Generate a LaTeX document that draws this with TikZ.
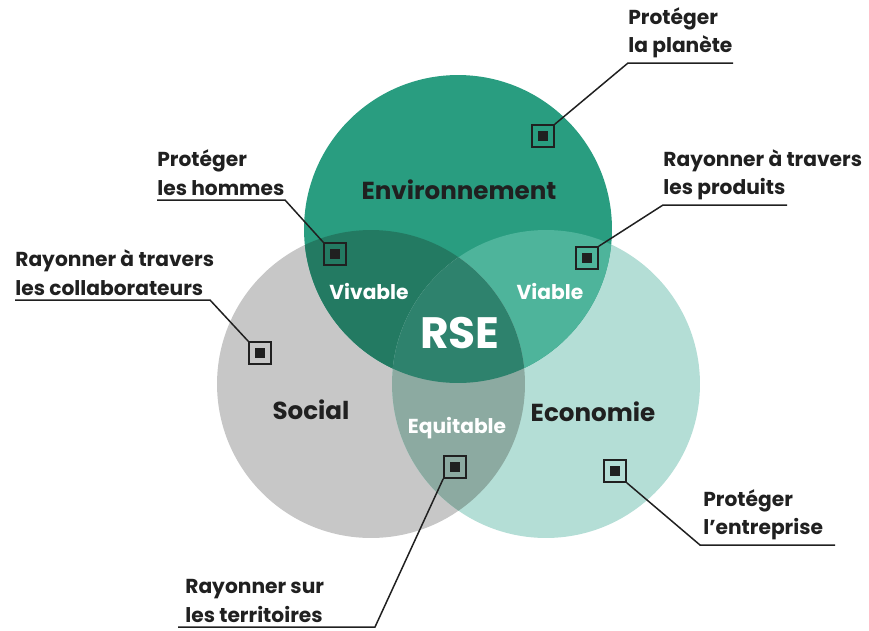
\documentclass[tikz,border=0pt]{standalone}
\usepackage{fontspec}
\setmainfont{Poppins}
\usetikzlibrary{positioning}
\usetikzlibrary{calc}

\definecolor{envgreen}{RGB}{41,157,128}
\definecolor{socgray}{RGB}{199,199,199}
\definecolor{ecoteal}{RGB}{180,222,214}
\definecolor{vivgreen}{RGB}{35,122,98}
\definecolor{viateal}{RGB}{78,180,155}
\definecolor{equigray}{RGB}{140,170,161}
\definecolor{rsegreen}{RGB}{46,130,109}
\definecolor{ink}{RGB}{32,32,32}

\def\R{3.08cm}

\begin{document}
\begin{tikzpicture}[x=0.02cm, y=-0.02cm,
            titlenode/.style={text=ink, font=\bfseries\fontsize{14}{16}\selectfont},
            whitenode/.style={text=white, font=\bfseries\fontsize{11.5}{13}\selectfont},
            calloutnode/.style={text=ink, align=left, anchor=south west, inner xsep=0pt, inner ysep=2.5pt,
                                font=\bfseries\fontsize{11.5}{16}\selectfont},
            squarednode/.style={rectangle, draw=ink, line width=0.9pt, minimum size=0.44cm, inner sep=0pt, text=ink},
            leader/.style={draw=ink, line width=0.85pt},
            ]

            \useasboundingbox (0,0) rectangle (869,630);

            \coordinate (envc) at (458,229);
            \coordinate (socc) at (371,384);
            \coordinate (ecoc) at (546,384);

            \fill[socgray] (socc) circle[radius=\R];
            \fill[ecoteal] (ecoc) circle[radius=\R];
            \fill[envgreen] (envc) circle[radius=\R];

            \begin{scope}
                \clip (envc) circle[radius=\R];
                \fill[vivgreen] (socc) circle[radius=\R];
                \fill[viateal] (ecoc) circle[radius=\R];
            \end{scope}
            \begin{scope}
                \clip (socc) circle[radius=\R];
                \fill[equigray] (ecoc) circle[radius=\R];
            \end{scope}
            \begin{scope}
                \clip (envc) circle[radius=\R];
                \clip (socc) circle[radius=\R];
                \fill[rsegreen] (ecoc) circle[radius=\R];
            \end{scope}

            \node[titlenode] (env) at (459,190) {Environnement};
            \node[titlenode] (soc) at (311,410) {Social};
            \node[titlenode] (eco) at (593,412) {Economie};
            \node[whitenode] (viv) at (369,291) {Vivable};
            \node[whitenode] (via) at (550,291) {Viable};
            \node[whitenode] (equi) at (457,428) {Equitable};
            \node[text=white, font=\bfseries\fontsize{25}{30}\selectfont] (rse) at (460,333) {RSE};

            \node[squarednode] (m1) at (543,136) {\rule{.2cm}{.2cm}};
            \node[squarednode] (m2) at (587,258) {\rule{.2cm}{.2cm}};
            \node[squarednode] (m3) at (335,254) {\rule{.2cm}{.2cm}};
            \node[squarednode] (m4) at (260,353) {\rule{.2cm}{.2cm}};
            \node[squarednode] (m5) at (455,467) {\rule{.2cm}{.2cm}};
            \node[squarednode] (m6) at (615,471) {\rule{.2cm}{.2cm}};

            \node[calloutnode] (t1) at (628,63) {Protéger\\la planète};
            \node[calloutnode] (t2) at (663,205) {Rayonner à travers\\les produits};
            \node[calloutnode] (t3) at (157,200) {Protéger\\les hommes};
            \node[calloutnode] (t4) at (15,300) {Rayonner à travers\\les collaborateurs};
            \node[calloutnode] (t5) at (185,627) {Rayonner sur\\les territoires};
            \node[calloutnode] (t6) at (703,545) {Protéger\\l’entreprise};

            \coordinate (u1) at (733,63);
            \coordinate (u2) at (787,205);
            \coordinate (u3) at (285,200);
            \coordinate (u4) at (210,300);
            \coordinate (u5) at (375,627);
            \coordinate (u6) at (835,545);

            \draw[leader] (m1.north east) -- (t1.south west) -- (u1);
            \draw[leader] (m2.north east) -- (t2.south west) -- (u2);
            \draw[leader] (m3.north west) -- (u3) -- (t3.south west);
            \draw[leader] (m4.north west) -- (u4) -- (t4.south west);
            \draw[leader] (m5.south west) -- (u5) -- ([xshift=-7*0.02cm]t5.south west);
            \draw[leader] (m6.south east) -- ([xshift=-3*0.02cm]t6.south west) -- (u6);
        \end{tikzpicture}
\end{document}
